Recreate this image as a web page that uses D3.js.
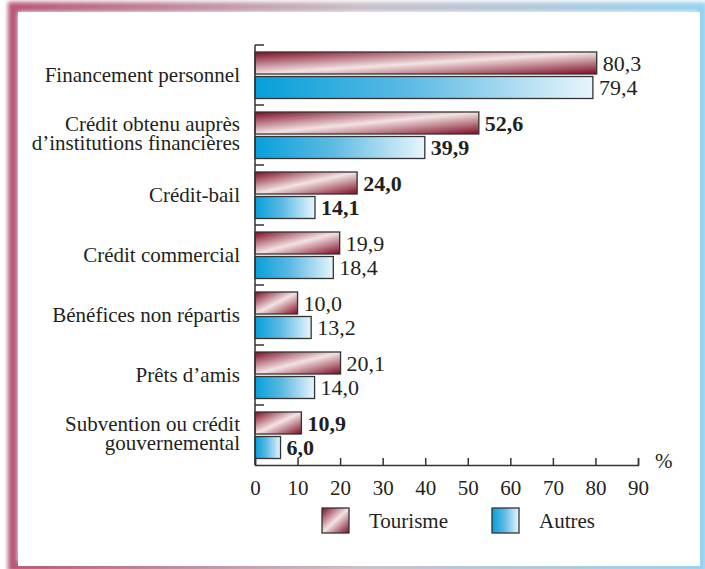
<!DOCTYPE html>
<html><head><meta charset="utf-8">
<script src="https://cdn.jsdelivr.net/npm/d3@7"></script>
<style>html,body{margin:0;padding:0;background:#fff;}svg{display:block;}</style>
</head><body>
<svg id="c" width="705" height="569"></svg>
<script>
const categories = [
  ["Financement personnel"],
  ["Crédit obtenu auprès", "d’institutions financières"],
  ["Crédit-bail"],
  ["Crédit commercial"],
  ["Bénéfices non répartis"],
  ["Prêts d’amis"],
  ["Subvention ou crédit", "gouvernemental"]
];
const tourisme = [80.3, 52.6, 24.0, 19.9, 10.0, 20.1, 10.9];
const autres   = [79.4, 39.9, 14.1, 18.4, 13.2, 14.0, 6.0];
const significant = [false, true, true, false, false, false, true];
const xTicks = [0, 10, 20, 30, 40, 50, 60, 70, 80, 90];
const seriesNames = ["Tourisme", "Autres"];

const svg = d3.select("#c");
const font = "Liberation Serif, Times New Roman, Times, serif";
const ink = "#231f20";
const defs = svg.append("defs");

const fg = defs.append("linearGradient").attr("id","frameG").attr("x1",0).attr("x2",1).attr("y1",0).attr("y2",0);
fg.append("stop").attr("offset",0).attr("stop-color","#b85878");
fg.append("stop").attr("offset",0.5).attr("stop-color","#c9bfc8");
fg.append("stop").attr("offset",1).attr("stop-color","#98d2ee");
const blur = defs.append("filter").attr("id","blur").attr("x","-5%").attr("y","-5%").attr("width","110%").attr("height","110%");
blur.append("feGaussianBlur").attr("stdDeviation",2.2);

const tg = defs.append("linearGradient").attr("id","tourG").attr("x1",0).attr("y1",0).attr("x2",1).attr("y2",1);
tg.append("stop").attr("offset",0).attr("stop-color","#7d0a22");
tg.append("stop").attr("offset",0.5).attr("stop-color","#f3e3e3");
tg.append("stop").attr("offset",1).attr("stop-color","#7d0a22");
const ag = defs.append("linearGradient").attr("id","autG").attr("x1",0).attr("y1",0).attr("x2",1).attr("y2",0);
ag.append("stop").attr("offset",0).attr("stop-color","#05a0da");
ag.append("stop").attr("offset",0.45).attr("stop-color","#5cb9e3");
ag.append("stop").attr("offset",1).attr("stop-color","#e8f5fc");

svg.append("rect").attr("x",13).attr("y",7).attr("width",689).attr("height",560)
  .attr("fill","none").attr("stroke","url(#frameG)").attr("stroke-width",10).attr("filter","url(#blur)");
svg.append("rect").attr("x",18).attr("y",12).attr("width",682).attr("height",554).attr("fill","#fff");

const x = d3.scaleLinear().domain([0, 90]).range([255, 638]);
const y = d3.scaleBand().domain(d3.range(categories.length)).range([45, 465]);
const bw = y.bandwidth();
const barH = 22;

const g = svg.append("g");

const rows = g.selectAll("g.row").data(categories).join("g").attr("class","row")
  .attr("transform",(d,i)=>`translate(0,${y(i)})`);
rows.append("rect").attr("x",x(0)).attr("y",7).attr("height",barH)
  .attr("width",(d,i)=>x(tourisme[i])-x(0)).attr("fill","url(#tourG)")
  .attr("stroke","#333").attr("stroke-width",1.3);
rows.append("rect").attr("x",x(0)).attr("y",31.5).attr("height",barH)
  .attr("width",(d,i)=>x(autres[i])-x(0)).attr("fill","url(#autG)")
  .attr("stroke","#333").attr("stroke-width",1.3);

const fmt = v => v.toFixed(1).replace(".", ",");
rows.append("text").attr("x",(d,i)=>x(tourisme[i])+6).attr("y",7+barH/2).attr("dy","0.35em")
  .attr("font-family",font).attr("font-size",22).attr("fill",ink)
  .attr("font-weight",(d,i)=>significant[i]?"bold":"normal").text((d,i)=>fmt(tourisme[i]));
rows.append("text").attr("x",(d,i)=>x(autres[i])+6).attr("y",31.5+barH/2).attr("dy","0.35em")
  .attr("font-family",font).attr("font-size",22).attr("fill",ink)
  .attr("font-weight",(d,i)=>significant[i]?"bold":"normal").text((d,i)=>fmt(autres[i]));

rows.each(function(d){
  const t = d3.select(this).append("text").attr("text-anchor","end").attr("x",240)
    .attr("font-family",font).attr("font-size",21).attr("fill",ink);
  const lh = 19;
  const n = d.length;
  d.forEach((line,j)=>t.append("tspan").attr("x",240)
    .attr("y",bw/2 + (j-(n-1)/2)*lh - (n>1?2:0)).attr("dy","0.35em").text(line));
});

g.append("line").attr("x1",x(0)).attr("x2",x(0)).attr("y1",45).attr("y2",465).attr("stroke","#333").attr("stroke-width",1.5);
g.selectAll("line.yt").data(d3.range(categories.length)).join("line").attr("class","yt")
  .attr("x1",x(0)).attr("x2",x(0)+9).attr("y1",i=>y(i)).attr("y2",i=>y(i)).attr("stroke","#333").attr("stroke-width",1.5);

const xa = g.append("g").attr("transform","translate(0,465)")
  .call(d3.axisBottom(x).tickValues(xTicks).tickSize(-7).tickPadding(15).tickFormat(d3.format("d")));
xa.select(".domain").attr("stroke","#333").attr("stroke-width",1.5);
xa.selectAll(".tick line").attr("stroke","#333").attr("stroke-width",1.5);
xa.selectAll(".tick text").attr("font-family",font).attr("font-size",21).attr("fill",ink);
g.append("text").attr("x",655).attr("y",468).attr("font-family",font).attr("font-size",21).attr("fill",ink).text("%");

const leg = svg.append("g");
const legX = [322, 492];
seriesNames.forEach((n,i)=>{
  leg.append("rect").attr("x",legX[i]).attr("y",508).attr("width",27).attr("height",25)
    .attr("fill", i===0?"url(#tourG)":"url(#autG)").attr("stroke","#333").attr("stroke-width",1.3);
  leg.append("text").attr("x",legX[i]+47).attr("y",528).attr("font-family",font).attr("font-size",21)
    .attr("fill",ink).text(n);
});
</script>
</body></html>
